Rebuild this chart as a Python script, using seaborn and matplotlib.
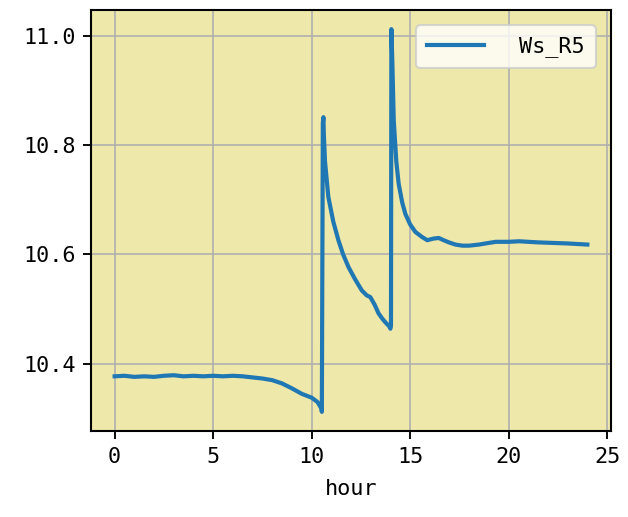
import matplotlib
matplotlib.use("Agg")
import matplotlib.pyplot as plt
import seaborn as sns
import pandas as pd

hour = [0, 0.5, 1, 1.5, 2, 2.5, 3, 3.5, 4, 4.5, 5, 5.5, 6, 6.5, 7, 7.5, 8, 8.5,
        9, 9.5, 10, 10.3, 10.5, 10.52, 10.57, 10.6, 10.62, 10.68, 10.85, 11.1,
        11.36, 11.6, 11.87, 12.2, 12.55, 12.8, 12.98, 13.2, 13.4, 13.6, 13.74,
        13.95, 14.0, 14.03, 14.05, 14.1, 14.17, 14.3, 14.42, 14.6, 14.76, 15.0,
        15.27, 15.6, 15.87, 16.2, 16.46, 16.7, 16.97, 17.3, 17.65, 18.0, 18.5,
        19.0, 19.35, 20.0, 20.55, 21.0, 21.5, 22.24, 23.0, 23.5, 24.0]
ws_r5 = [10.377, 10.378, 10.376, 10.377, 10.376, 10.378, 10.379, 10.377, 10.378,
         10.377, 10.378, 10.377, 10.378, 10.377, 10.375, 10.373, 10.370, 10.364,
         10.355, 10.345, 10.338, 10.330, 10.318, 10.312, 10.840, 10.851, 10.820,
         10.770, 10.705, 10.660, 10.626, 10.600, 10.577, 10.555, 10.534, 10.525,
         10.522, 10.508, 10.492, 10.482, 10.476, 10.468, 10.464, 10.470, 11.012,
         10.950, 10.845, 10.770, 10.729, 10.695, 10.674, 10.655, 10.641, 10.632,
         10.626, 10.629, 10.630, 10.626, 10.622, 10.618, 10.616, 10.616, 10.618,
         10.621, 10.623, 10.623, 10.624, 10.623, 10.622, 10.621, 10.620, 10.619,
         10.618]
series_name = "Ws_R5"

df = pd.DataFrame({"hour": hour, series_name: ws_r5})

plt.rcParams["font.family"] = ["DejaVu Sans Mono", "DejaVu Sans"]
plt.rcParams["font.size"] = 10.5

fig = plt.figure(figsize=(628 / 150, 517 / 150), dpi=150)
ax = fig.add_axes([91 / 628, 1 - 431 / 517, (611 - 91) / 628, (431 - 10) / 517])
ax.set_facecolor("palegoldenrod")

sns.lineplot(data=df, x="hour", y=series_name, ax=ax, color="#1f77b4",
             linewidth=2.0, label=series_name)

ax.grid(True, color="#b0b0b0", linewidth=0.8)
ax.set_axisbelow(True)
ax.set_ylabel("")
ax.set_xlabel("hour", labelpad=6)
ax.set_xticks([0, 5, 10, 15, 20, 25])
ax.set_yticks([10.4, 10.6, 10.8, 11.0])
ax.set_yticklabels(["10.4", "10.6", "10.8", "11.0"])
ax.tick_params(length=4, width=0.9)
for s in ax.spines.values():
    s.set_color("black")
    s.set_linewidth(1.0)
ax.legend(loc="upper right", handlelength=2.6, handletextpad=1.6,
          borderaxespad=0.7, borderpad=0.5)

fig.savefig("out.png", dpi=150)
